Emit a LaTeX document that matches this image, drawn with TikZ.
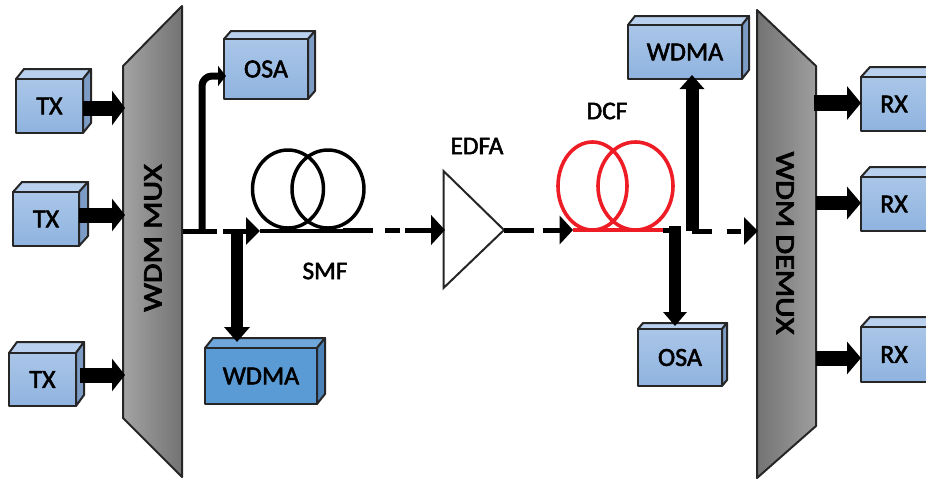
\documentclass[tikz,border=0pt]{standalone}
\usepackage{fontspec}
\setmainfont{Carlito}
\newcommand{\heavy}[2]{\special{pdf:code q 2 Tr #1 w}#2\special{pdf:code Q}}
\usetikzlibrary{arrows.meta,calc}
\definecolor{frontA}{HTML}{AAC6E8}
\definecolor{frontB}{HTML}{8FB3DF}
\definecolor{topL}{HTML}{B9D0EE}
\definecolor{sideL}{HTML}{7C9CC6}
\definecolor{frontD}{HTML}{5A9AD5}
\definecolor{topD}{HTML}{6FA7DD}
\definecolor{sideD}{HTML}{4A82B8}
\definecolor{fibreRed}{HTML}{EE1C25}
\tikzset{
  boxtext/.style={font=\fontsize{19.5}{19.5}\selectfont,text=black},
  edge/.style={draw=black!85,line width=1.5pt,line join=round},
  fat/.style={line width=#1*0.75pt,draw=black,line cap=butt},
  tipfat/.style n args={2}{-{Triangle[length=#1*0.75pt,width=#2*0.75pt]}},
  dashline/.style={draw=black,line width=3.75pt},
  lbl/.style={inner sep=0pt,font=\fontsize{19}{19}\selectfont,text=black},
  muxlbl/.style={inner sep=0pt,font=\fontsize{20}{20}\selectfont,text=black},
}
\newcommand{\cubbox}[9]{%
  \pgfmathsetmacro{\cw}{(#4-#2)*0.75}%
  \pgfmathsetmacro{\ch}{(#5-#3)*0.75}%
  \pgfmathsetmacro{\cx}{(#2+#4)/2}%
  \pgfmathsetmacro{\cy}{(#3+#5)/2}%
  \pgfmathsetmacro{\dx}{#6-#4}%
  \pgfmathsetmacro{\dy}{#3-#7}%
  \filldraw[edge,fill=#9top] (#2,#3) -- ++(\dx,-\dy) -- (#6,#7) -- (#4,#3) -- cycle;
  \filldraw[edge,fill=#9side] (#4,#3) -- (#6,#7) -- (#6,#5-\dy) -- (#4,#5) -- cycle;
  \node[edge,boxtext,inner sep=0pt,outer sep=0pt,minimum width=\cw pt,minimum height=\ch pt,
        top color=#9topf,bottom color=#9botf] (#1) at (\cx,\cy) {\raisebox{-2pt}{\heavy{0.4}{#8}}};
}
\colorlet{Ltop}{topL}\colorlet{Lside}{sideL}\colorlet{Ltopf}{frontA}\colorlet{Lbotf}{frontB}
\colorlet{Dtop}{topD}\colorlet{Dside}{sideD}\colorlet{Dtopf}{frontD}\colorlet{Dbotf}{frontD}
\begin{document}
\begin{tikzpicture}[x=0.75pt,y=-0.75pt]
\useasboundingbox (0,0) rectangle (926,479);
\clip (0,0) rectangle (926,479);
\fill[white] (0,0) rectangle (926,479);
% mux and demux
\draw[edge,left color=black!36,right color=black!55] (123,66) -- (182,6) -- (182,477) -- (123,418) -- cycle;
\draw[edge,left color=black!55,right color=black!38] (757,10) -- (816,66) -- (816,426) -- (757,478) -- cycle;
\node[muxlbl,rotate=90,xscale=1.2] (muxl) at (153,238) {\heavy{0.6}{WDM MUX}};
\node[muxlbl,rotate=-90,xscale=1.2] (demuxl) at (785,243) {\heavy{0.6}{WDM DEMUX}};
% boxes
\cubbox{tx1}{16}{79}{83}{133}{91}{69}{TX}{L}
\cubbox{tx2}{13}{192}{79}{246}{88}{182}{TX}{L}
\cubbox{tx3}{9}{353}{76}{406}{84}{342}{TX}{L}
\cubbox{osaA}{224}{39}{308}{99}{315}{31}{OSA}{L}
\cubbox{wdmaA}{205}{348}{317}{404}{325}{338}{WDMA}{D}
\cubbox{wdmaB}{628}{25}{742}{79}{749}{16}{WDMA}{L}
\cubbox{osaB}{638}{329}{722}{386}{727}{323}{OSA}{L}
\cubbox{rx1}{861}{77}{927}{131}{936}{67}{RX}{L}
\cubbox{rx2}{861}{177}{927}{231}{936}{167}{RX}{L}
\cubbox{rx3}{861}{327}{927}{382}{936}{317}{RX}{L}
% coordinates
\coordinate (m1) at (125,108);
\coordinate (m2) at (125,215);
\coordinate (m3) at (125,375);
\coordinate (d1) at (814,103);
\coordinate (d2) at (816,203);
\coordinate (d3) at (816,358);
\coordinate (muxout) at (183,231);
\coordinate (smfA) at (260,231);
\coordinate (smfB) at (373,231);
\coordinate (dashB) at (343,230);
\coordinate (dcfA) at (573,230);
\coordinate (dcfB) at (665,230);
\coordinate (dcfT) at (675,226);
\coordinate (tapA) at (202,231);
\coordinate (tapB) at (237,231);
\coordinate (tapC) at (692,231);
\coordinate (demuxin) at (758,231);
\coordinate (osaIn) at (226,76);
\coordinate (stub) at (663,230);
\coordinate (edfaW) at (445,230);
\coordinate (edfaE) at (504,230);
\coordinate (wdmaAin) at (237,342);
\coordinate (wdmaBin) at (692,75);
\coordinate (osaBin) at (675,326);
% amplifier
\draw[draw=black!85,line width=1.5pt,line join=miter,fill=white] (443.5,171) -- (edfaE) -- (443.5,288) -- cycle;
% fibre coils
\draw[black,line width=2.6pt] (288,189) ellipse [x radius=35.5,y radius=39];
\draw[black,line width=2.6pt] (328,189) ellipse [x radius=36,y radius=39];
\draw[black,line width=2.6pt] (smfA) -- (smfB);
\draw[fibreRed,line width=2.7pt] (592.5,186) ellipse [x radius=34.5,y radius=44];
\draw[fibreRed,line width=2.7pt] (635.5,186) ellipse [x radius=37.5,y radius=44];
\draw[fibreRed,line width=3pt] (dcfA) -- (dcfB);
% fat arrows
\draw[fat=15,tipfat={13}{34}] (tx1.east |- m1) -- (m1);
\draw[fat=15,tipfat={13}{32}] (tx2.east |- m2) -- (m2);
\draw[fat=15,tipfat={13}{32}] ($(tx3.east |- m3)+(4,0)$) -- (m3);
\draw[fat=16,tipfat={14}{33}] (d1) -- (rx1.west |- d1);
\draw[fat=14,tipfat={14}{32}] (d2) -- (rx2.west |- d2);
\draw[fat=15,tipfat={14}{32}] (d3) -- (rx3.west |- d3);
% dashed signal path
\draw[dashline,dash pattern=on 25.5pt off 4.5pt on 12pt off 0pt,-{Triangle[length=10.5pt,width=20pt]}] (muxout) -- (smfA);
\draw[dashline,dash pattern=on 22.5pt off 9pt on 11pt off 4pt on 20pt off 0pt,-{Triangle[length=10.5pt,width=22pt]}] (dashB) -- (edfaW);
\draw[dashline,dash pattern=on 22.5pt off 6.5pt on 12pt off 0pt,-{Triangle[length=10pt,width=21pt]}] (edfaE) -- (dcfA);
\draw[dashline,dash pattern=on 15pt off 11pt on 11pt off 4pt on 11pt off 0pt,-{Triangle[length=10.5pt,width=20pt]}] (tapC) -- (demuxin);
% taps
\draw[fat=7,line join=round,rounded corners=7.5pt,-{Triangle[length=6pt,width=15pt]}] (tapA) |- (osaIn);
\draw[fat=12.5,tipfat={15}{25}] (tapB) -- (wdmaAin);
\draw[fat=13,tipfat={14}{24}] (tapC) -- (wdmaBin);
\draw[fat=12,tipfat={14}{23}] (dcfT) -- (osaBin);
\draw[black,line width=3.75pt] (stub) -- (dcfT |- stub);
% labels
\node[lbl] (smf) at (325,271) {\heavy{0.4}{SMF}};
\node[lbl] (edfalbl) at (477,146) {\heavy{0.4}{EDFA}};
\node[lbl] (dcf) at (607,111) {\heavy{0.4}{DCF}};
\end{tikzpicture}
\end{document}
